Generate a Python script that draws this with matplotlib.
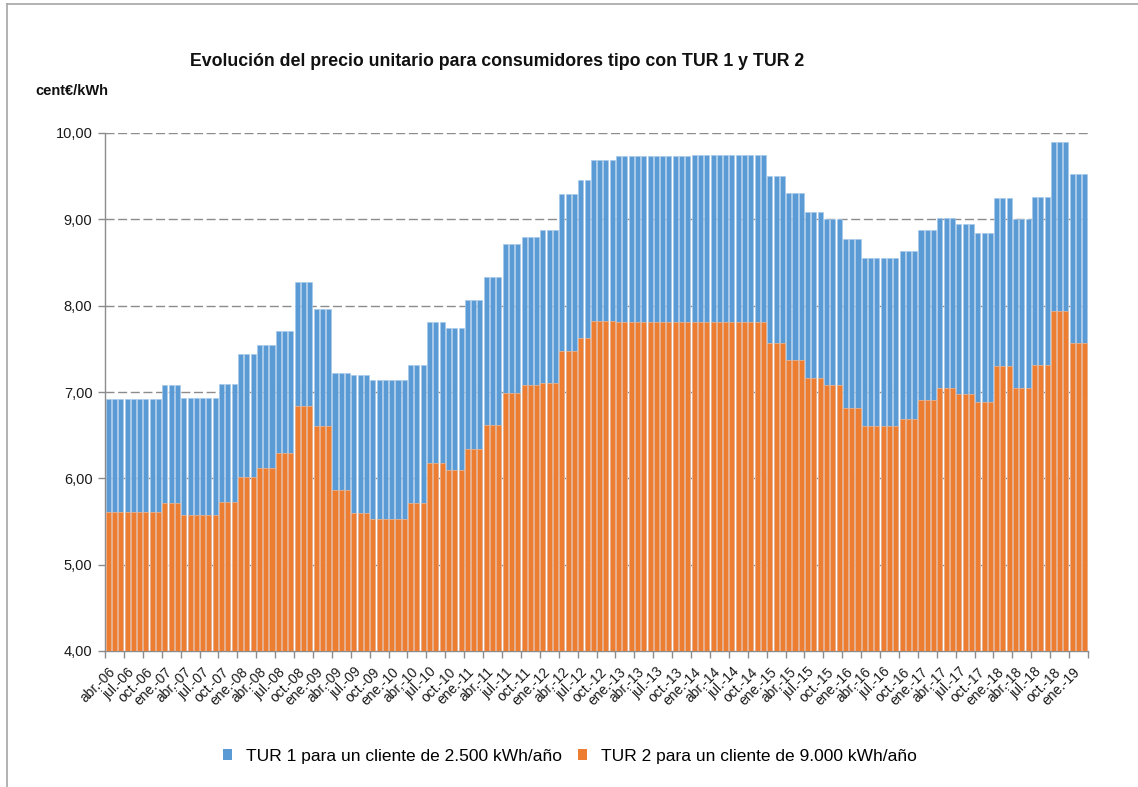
import matplotlib
matplotlib.use("Agg")
import matplotlib.pyplot as plt
from matplotlib.lines import Line2D
from matplotlib.patches import Patch
import numpy as np

plt.rcParams['font.family'] = ['Liberation Sans', 'DejaVu Sans']

# Monthly values, abr-06 .. mar-19 (cent€/kWh)
tur1 = [
    6.92, 6.92, 6.92, 6.92, 6.92, 6.92, 6.92, 6.92, 6.92,                  # 2006 (abr-dic)
    7.08, 7.08, 7.08, 6.93, 6.93, 6.93, 6.93, 6.93, 6.93, 7.09, 7.09, 7.09,  # 2007
    7.44, 7.44, 7.44, 7.55, 7.55, 7.55, 7.71, 7.71, 7.71, 8.27, 8.27, 8.27,  # 2008
    7.96, 7.96, 7.96, 7.22, 7.22, 7.22, 7.20, 7.20, 7.20, 7.14, 7.14, 7.14,  # 2009
    7.14, 7.14, 7.14, 7.31, 7.31, 7.31, 7.81, 7.81, 7.81, 7.74, 7.74, 7.74,  # 2010
    8.07, 8.07, 8.07, 8.33, 8.33, 8.33, 8.71, 8.71, 8.71, 8.80, 8.80, 8.80,  # 2011
    8.88, 8.88, 8.88, 9.29, 9.29, 9.29, 9.45, 9.45, 9.69, 9.69, 9.69, 9.69,  # 2012
    9.73, 9.73, 9.73, 9.73, 9.73, 9.73, 9.73, 9.73, 9.73, 9.73, 9.73, 9.73,  # 2013
    9.75, 9.75, 9.75, 9.75, 9.75, 9.75, 9.75, 9.75, 9.75, 9.75, 9.75, 9.75,  # 2014
    9.50, 9.50, 9.50, 9.31, 9.31, 9.31, 9.09, 9.09, 9.09, 9.00, 9.00, 9.00,  # 2015
    8.77, 8.77, 8.77, 8.55, 8.55, 8.55, 8.55, 8.55, 8.55, 8.63, 8.63, 8.63,  # 2016
    8.88, 8.88, 8.88, 9.02, 9.02, 9.02, 8.95, 8.95, 8.95, 8.84, 8.84, 8.84,  # 2017
    9.25, 9.25, 9.25, 9.00, 9.00, 9.00, 9.26, 9.26, 9.26, 9.89, 9.89, 9.89,  # 2018
    9.52, 9.52, 9.52,                                                      # 2019 (ene-mar)
]
tur2 = [
    5.61, 5.61, 5.61, 5.61, 5.61, 5.61, 5.61, 5.61, 5.61,                  # 2006
    5.72, 5.72, 5.72, 5.58, 5.58, 5.58, 5.58, 5.58, 5.58, 5.73, 5.73, 5.73,  # 2007
    6.01, 6.01, 6.01, 6.12, 6.12, 6.12, 6.29, 6.29, 6.29, 6.84, 6.84, 6.84,  # 2008
    6.61, 6.61, 6.61, 5.87, 5.87, 5.87, 5.60, 5.60, 5.60, 5.53, 5.53, 5.53,  # 2009
    5.53, 5.53, 5.53, 5.71, 5.71, 5.71, 6.18, 6.18, 6.18, 6.10, 6.10, 6.10,  # 2010
    6.34, 6.34, 6.34, 6.62, 6.62, 6.62, 6.99, 6.99, 6.99, 7.08, 7.08, 7.08,  # 2011
    7.11, 7.11, 7.11, 7.47, 7.47, 7.47, 7.62, 7.62, 7.82, 7.82, 7.82, 7.82,  # 2012
    7.81, 7.81, 7.81, 7.81, 7.81, 7.81, 7.81, 7.81, 7.81, 7.81, 7.81, 7.81,  # 2013
    7.81, 7.81, 7.81, 7.81, 7.81, 7.81, 7.81, 7.81, 7.81, 7.81, 7.81, 7.81,  # 2014
    7.57, 7.57, 7.57, 7.37, 7.37, 7.37, 7.16, 7.16, 7.16, 7.08, 7.08, 7.08,  # 2015
    6.82, 6.82, 6.82, 6.61, 6.61, 6.61, 6.61, 6.61, 6.61, 6.69, 6.69, 6.69,  # 2016
    6.91, 6.91, 6.91, 7.05, 7.05, 7.05, 6.98, 6.98, 6.98, 6.88, 6.88, 6.88,  # 2017
    7.30, 7.30, 7.30, 7.05, 7.05, 7.05, 7.31, 7.31, 7.31, 7.94, 7.94, 7.94,  # 2018
    7.57, 7.57, 7.57,                                                      # 2019
]

# Quarterly tick labels (every 3rd month, starting abr-06)
tick_labels = [
    "abr.-06", "jul.-06", "oct.-06",
    "ene.-07", "abr.-07", "jul.-07", "oct.-07",
    "ene.-08", "abr.-08", "jul.-08", "oct.-08",
    "ene.-09", "abr.-09", "jul.-09", "oct.-09",
    "ene.-10", "abr.-10", "jul.-10", "oct.-10",
    "ene.-11", "abr.-11", "jul.-11", "oct.-11",
    "ene.-12", "abr.-12", "jul.-12", "oct.-12",
    "ene.-13", "abr.-13", "jul.-13", "oct.-13",
    "ene.-14", "abr.-14", "jul.-14", "oct.-14",
    "ene.-15", "abr.-15", "jul.-15", "oct.-15",
    "ene.-16", "abr.-16", "jul.-16", "oct.-16",
    "ene.-17", "abr.-17", "jul.-17", "oct.-17",
    "ene.-18", "abr.-18", "jul.-18", "oct.-18",
    "ene.-19",
]
y_ticks = [4, 5, 6, 7, 8, 9, 10]

series_names = ["TUR 1 para un cliente de 2.500 kWh/año",
                "TUR 2 para un cliente de 9.000 kWh/año"]
blue = "#5B9BD5"
orange = "#ED7D31"

W, H = 1138, 787
fig = plt.figure(figsize=(W / 100, H / 100), dpi=100)
ax = fig.add_axes([105 / W, 1 - 651 / H, (1088 - 105) / W, (651 - 133) / H])

n = len(tur1)
x = np.arange(n)
ax.bar(x, tur1, width=0.8, color=blue, edgecolor="#a9c9ea", linewidth=0.5, zorder=2)
ax.bar(x, tur2, width=0.8, color=orange, edgecolor="#f3b58f", linewidth=0.5, zorder=3)

ax.set_xlim(-0.5, n - 0.5)
ax.set_ylim(4, 10)

# y axis
ax.set_yticks(y_ticks)
ax.set_yticklabels([f"{v:.2f}".replace(".", ",") for v in y_ticks], fontsize=10.5, color="#1a1a1a")
for v in y_ticks[1:]:
    ax.axhline(v, color="#8c8c8c", linewidth=1.0, linestyle=(0, (6.5, 2.6)), zorder=1)

# x axis: labels at category centres, tick marks between categories
label_pos = np.arange(len(tick_labels)) * 3
ax.set_xticks(label_pos)
ax.set_xticklabels(tick_labels, rotation=45, ha="right", va="top",
                   rotation_mode="anchor", fontsize=10, color="#1a1a1a")
ax.tick_params(axis="x", which="major", length=0, pad=10)
ax.set_xticks(np.arange(0, n + 1, 3) - 0.5, minor=True)
ax.tick_params(axis="x", which="minor", length=5, color="#8c8c8c", width=1)
ax.tick_params(axis="y", which="major", length=5, color="#8c8c8c", width=1, pad=4)

for s in ["top", "right"]:
    ax.spines[s].set_visible(False)
for s in ["left", "bottom"]:
    ax.spines[s].set_color("#8c8c8c")
    ax.spines[s].set_linewidth(1)

# Title and unit label
fig.text(497 / W, 1 - 61 / H, "Evolución del precio unitario para consumidores tipo con TUR 1 y TUR 2",
         ha="center", va="center", fontsize=12.8, fontweight="bold", color="#111111")
fig.text(35 / W, 1 - 91 / H, "cent€/kWh", ha="left", va="center",
         fontsize=10.5, fontweight="bold", color="#111111")

# Legend
handles = [Patch(facecolor=blue, edgecolor="none"), Patch(facecolor=orange, edgecolor="none")]
fig.legend(handles, series_names, loc="center", bbox_to_anchor=(570 / W, 1 - 756 / H),
           ncol=2, frameon=False, fontsize=12.5, handlelength=0.55, handleheight=0.55,
           handletextpad=0.8, columnspacing=0.9)

# Chart border (left and top edges visible)
fig.add_artist(Line2D([7 / W, 7 / W], [0, 1 - 3.5 / H], transform=fig.transFigure,
                      color="#a6a6a6", linewidth=1.2))
fig.add_artist(Line2D([7 / W, 1], [1 - 3.5 / H, 1 - 3.5 / H], transform=fig.transFigure,
                      color="#a6a6a6", linewidth=1.2))

fig.savefig("out.png", dpi=100, facecolor="white")
